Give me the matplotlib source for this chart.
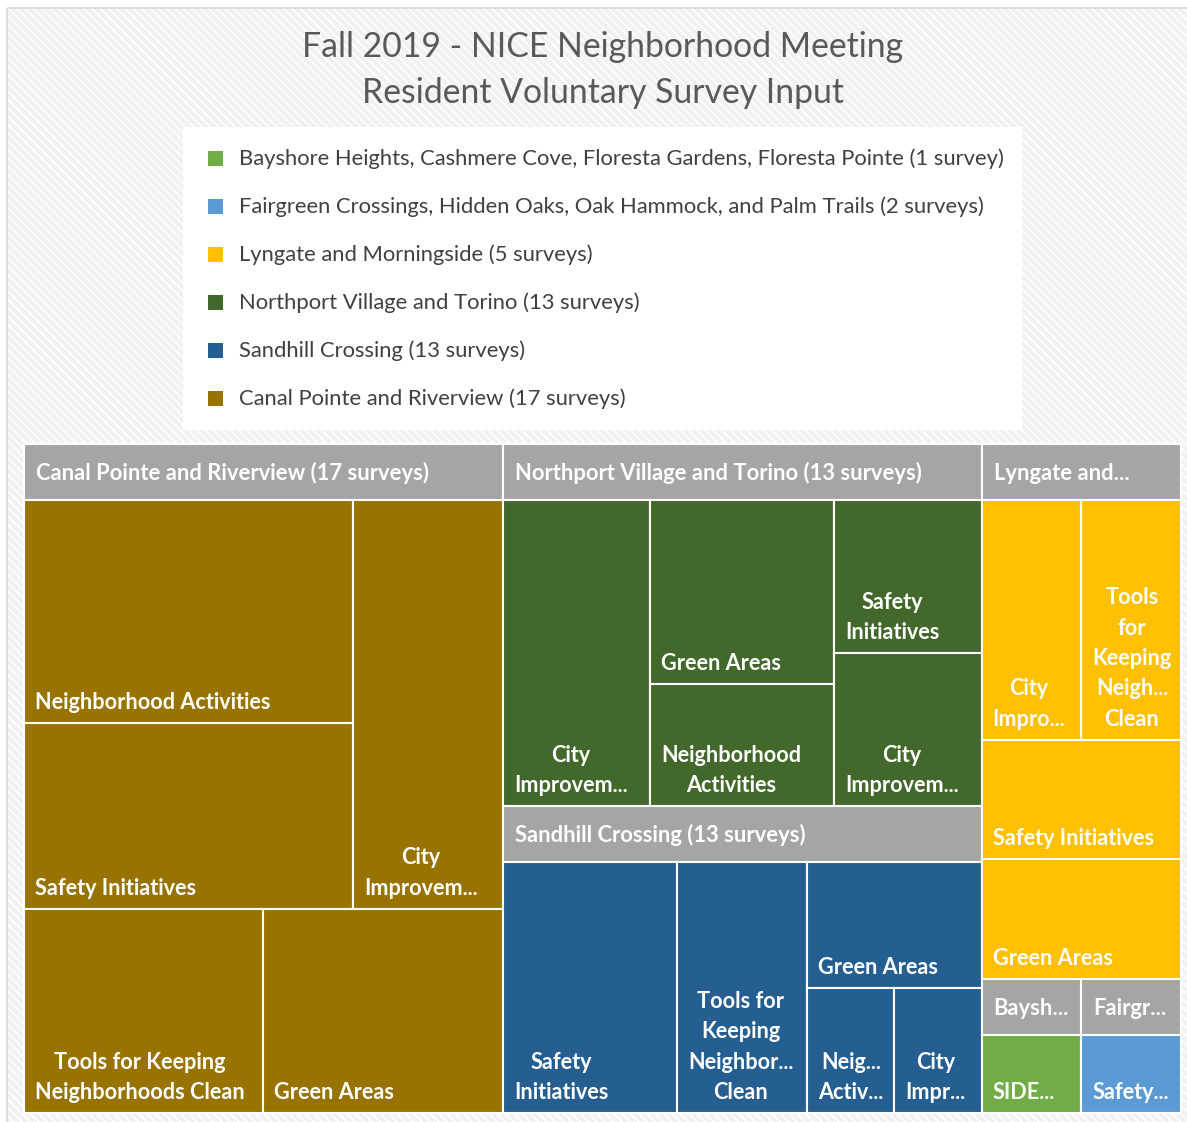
import matplotlib
matplotlib.use("Agg")
import matplotlib.pyplot as plt
from matplotlib.patches import Rectangle

# ---- data ----
title_lines = ["Fall 2019 - NICE Neighborhood Meeting", "Resident Voluntary Survey Input"]

legend_labels = [
    "Bayshore Heights, Cashmere Cove, Floresta Gardens, Floresta Pointe (1 survey)",
    "Fairgreen Crossings, Hidden Oaks, Oak Hammock, and Palm Trails (2 surveys)",
    "Lyngate and Morningside (5 surveys)",
    "Northport Village and Torino (13 surveys)",
    "Sandhill Crossing (13 surveys)",
    "Canal Pointe and Riverview (17 surveys)",
]
legend_colors = ["#70AD47", "#5B9BD5", "#FFC000", "#43682B", "#255E91", "#987300"]

# treemap regions (largest first) with their header text as shown
region_headers = [
    "Canal Pointe and Riverview (17 surveys)",
    "Northport Village and Torino (13 surveys)",
    "Sandhill Crossing (13 surveys)",
    "Lyngate and...",
    "Baysh...",
    "Fairgr...",
]
region_colors = ["#987300", "#43682B", "#255E91", "#FFC000", "#70AD47", "#5B9BD5"]

canal_topics = ["Neighborhood Activities", "Safety Initiatives", "City\nImprovem...",
                "Tools for Keeping\nNeighborhoods Clean", "Green Areas"]
canal_counts = [6, 5, 5, 4, 4]
north_topics = ["City\nImprovem...", "Green Areas", "Neighborhood\nActivities",
                "Safety\nInitiatives", "City\nImprovem..."]
north_counts = [4, 3, 2, 2, 2]
sand_topics = ["Safety\nInitiatives", "Tools for\nKeeping\nNeighbor...\nClean",
               "Green Areas", "Neig...\nActiv...", "City\nImpr..."]
sand_counts = [4, 3, 2, 1, 1]
lyng_topics = ["City\nImpro...", "Tools\nfor\nKeeping\nNeigh...\nClean",
               "Safety Initiatives", "Green Areas"]
lyng_counts = [2, 2, 2, 2]
bay_topics = ["SIDE..."]
bay_counts = [1]
fair_topics = ["Safety..."]
fair_counts = [1]

region_topics = [canal_topics, north_topics, sand_topics, lyng_topics, bay_topics, fair_topics]
region_counts = [canal_counts, north_counts, sand_counts, lyng_counts, bay_counts, fair_counts]

# nesting used for the slice layout (direction alternates per level)
top_groups = [0, [1, 2], [3, [4, 5]]]
region_groups = [
    [[[0, 1], 2], [3, 4]],
    [0, [1, 2], [3, 4]],
    [0, 1, [2, [3, 4]]],
    [[0, 1], 2, 3],
    [0],
    [0],
]


def node_total(node, values):
    if isinstance(node, list):
        return sum(node_total(n, values) for n in node)
    return values[node]


def slice_layout(x, y, w, h, groups, values, horiz, out):
    totals = [node_total(g, values) for g in groups]
    s = float(sum(totals))
    pos = x if horiz else y
    for g, t in zip(groups, totals):
        if horiz:
            r = (pos, y, w * t / s, h)
            pos += w * t / s
        else:
            r = (x, pos, w, h * t / s)
            pos += h * t / s
        if isinstance(g, list) and len(g) > 1:
            slice_layout(*r, g, values, not horiz, out)
        elif isinstance(g, list):
            out[g[0]] = r
        else:
            out[g] = r
    return out


W, H = 1187, 1122
fig = plt.figure(figsize=(W / 100, H / 100), dpi=100)
ax = fig.add_axes([0, 0, 1, 1])
ax.set_xlim(0, W)
ax.set_ylim(H, 0)
ax.axis("off")

plt.rcParams["hatch.linewidth"] = 1.2
font = "Lato"

# striped chart background
ax.add_patch(Rectangle((7, 8), W, H, facecolor="#F1F1F1", edgecolor="white",
                       hatch="\\\\\\\\", linewidth=0, zorder=0))
ax.add_patch(Rectangle((7, 8), W, H, facecolor="none", edgecolor="#D9D9D9",
                       linewidth=1.2, zorder=1))

for i, line in enumerate(title_lines):
    ax.text(603, 47 + i * 46, line, ha="center", va="center", fontsize=24.3,
            color="#595959", family=font, zorder=3)

# legend
ax.add_patch(Rectangle((183, 127), 839, 303, facecolor="white", edgecolor="none", zorder=2))
for i, (lab, col) in enumerate(zip(legend_labels, legend_colors)):
    yy = 159 + i * 48
    ax.add_patch(Rectangle((208, yy - 8), 15, 15, facecolor=col, edgecolor="none", zorder=3))
    ax.text(239, yy, lab, ha="left", va="center", fontsize=15.8, color="#404040",
            family=font, zorder=3)

# treemap
tx, ty, tw, th = 24, 444, 1157, 669
header_h = 56
region_totals = [sum(c) for c in region_counts]
region_rects = slice_layout(tx, ty, tw, th, top_groups, region_totals, tw >= th, {})

for ri in range(len(region_headers)):
    rx, ry, rw, rh = region_rects[ri]
    ax.add_patch(Rectangle((rx, ry), rw, header_h, facecolor="#A5A5A5",
                           edgecolor="white", linewidth=1.5, zorder=4))
    ax.text(rx + 12, ry + header_h / 2 + 1, region_headers[ri], ha="left", va="center",
            fontsize=15.8, fontweight="bold", color="white", family=font, zorder=6)
    ix, iy, iw, ih = rx, ry + header_h, rw, rh - header_h
    leaf = slice_layout(ix, iy, iw, ih, region_groups[ri], region_counts[ri], iw >= ih, {})
    for li, lab in enumerate(region_topics[ri]):
        lx, ly, lw, lh = leaf[li]
        ax.add_patch(Rectangle((lx, ly), lw, lh, facecolor=region_colors[ri],
                               edgecolor="white", linewidth=1.5, zorder=4))
        ax.text(lx + 11, ly + lh - 10, lab, ha="left", va="bottom", multialignment="center",
                fontsize=15.6, fontweight="bold", color="white", family=font,
                linespacing=1.55, zorder=6)

fig.savefig("out.png", dpi=100)
